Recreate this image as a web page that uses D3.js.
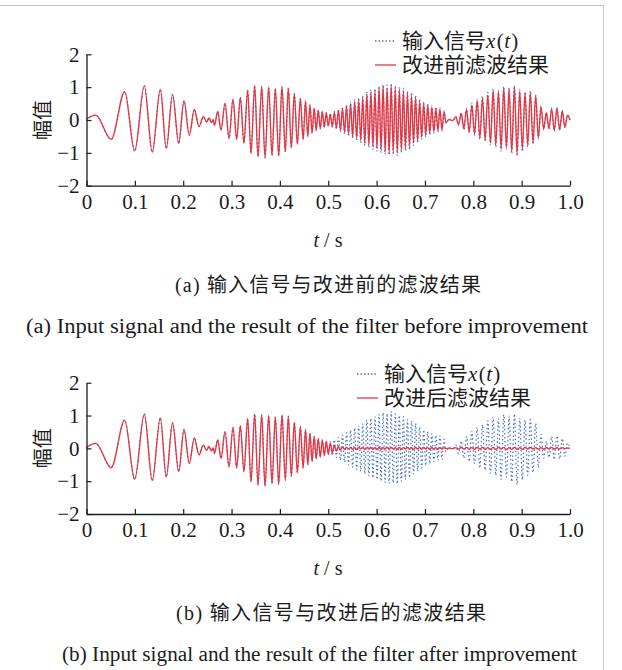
<!DOCTYPE html>
<html>
<head>
<meta charset="utf-8">
<script src="https://cdn.jsdelivr.net/npm/d3@7"></script>
<style>
  body { margin: 0; background: #fff; }
  svg { display: block; }
  text { font-family: "Liberation Serif", "Times New Roman", serif; fill: #1c1c1c; }
  .cjk { font-family: "Noto Sans CJK SC", sans-serif; }
</style>
</head>
<body>
<svg id="chart" width="622" height="670"></svg>
<script>
//peak and trough times (s), first part where all curves coincide
const headTimes = [0, 0.019, 0.051, 0.079, 0.0997, 0.1196, 0.136, 0.1527, 0.165, 0.178,
  0.1907, 0.2017, 0.2126, 0.223, 0.2327, 0.2416, 0.2486, 0.2534, 0.2585, 0.2620, 0.2648,
  0.2713, 0.2782, 0.2865, 0.2947, 0.3030, 0.3106, 0.3182, 0.3257, 0.3333, 0.3402,
  0.3478, 0.3547, 0.3623, 0.3692, 0.3768, 0.3837, 0.3905, 0.3975, 0.4043, 0.4112,
  0.4174, 0.4236, 0.4298, 0.4361, 0.4423, 0.4480, 0.4530, 0.4577, 0.4622, 0.4666,
  0.4709, 0.4751, 0.4793, 0.4835, 0.4877, 0.4918, 0.4959, 0.5000];
//amplitudes at those times (input = both filter outputs here)
const headValues = [0.03, 0.15, -0.59, 0.86, -0.94, 1.04, -0.98, 0.93, -0.87, 0.78,
  -0.71, 0.58, -0.46, 0.32, -0.20, 0.10, -0.06, 0.06, -0.08, 0.02, -0.16,
  0.26, -0.31, 0.51, -0.56, 0.63, -0.59, 0.69, -0.71, 0.91, -1.02,
  1.05, -1.12, 1.02, -1.15, 1.00, -1.08, 0.96, -1.10, 1.02, -0.97,
  0.98, -0.85, 0.80, -0.74, 0.66, -0.60, 0.58, -0.50, 0.46, -0.40,
  0.36, -0.32, 0.30, -0.27, 0.26, -0.22, 0.22, -0.18];

//second part, where the curves split apart
const tailTimes = [0.5042, 0.5084, 0.5126, 0.5168, 0.5210, 0.5252, 0.5294, 0.5336, 0.5378, 0.5420,
  0.5462, 0.5504, 0.5546, 0.5588, 0.5630, 0.5672, 0.5714, 0.5756, 0.5798, 0.5840,
  0.5882, 0.5924, 0.5966, 0.6008, 0.6050, 0.6092, 0.6134, 0.6176, 0.6218, 0.6260,
  0.6302, 0.6344, 0.6386, 0.6428, 0.6470, 0.6512, 0.6554, 0.6596, 0.6638, 0.6680,
  0.6722, 0.6764, 0.6806, 0.6848, 0.6890, 0.6932, 0.6974, 0.7016, 0.7058, 0.7100,
  0.7142, 0.7184, 0.7226, 0.7268, 0.7310, 0.7352, 0.7394, 0.7436,
  0.7500, 0.7570,
  0.7640, 0.7695, 0.7750, 0.7805, 0.7860, 0.7915, 0.7970, 0.8025, 0.8080, 0.8135,
  0.8190, 0.8245, 0.8300, 0.8355, 0.8410, 0.8465, 0.8520, 0.8575, 0.8630, 0.8685,
  0.8740, 0.8795, 0.8850, 0.8905, 0.8960, 0.9015, 0.9070, 0.9125, 0.9180, 0.9235,
  0.9290, 0.9345, 0.9400, 0.9455, 0.9510, 0.9565, 0.9620, 0.9675, 0.9730, 0.9785,
  0.9840, 0.9895, 0.9950, 1.0000];

//input signal x(t), blue dotted
const inputTail = [0.20, -0.22, 0.26, -0.28, 0.33, -0.36, 0.40, -0.42, 0.47, -0.50,
  0.55, -0.57, 0.62, -0.64, 0.68, -0.70, 0.75, -0.78, 0.86, -0.84,
  0.92, -0.90, 0.96, -0.95, 1.04, -1.00, 1.08, -1.04, 1.06, -1.07,
  1.12, -1.05, 1.05, -1.08, 1.00, -1.00, 0.97, -0.95, 0.88, -0.90,
  0.84, -0.78, 0.76, -0.70, 0.64, -0.60, 0.56, -0.52, 0.50, -0.46,
  0.44, -0.40, 0.40, -0.36, 0.38, -0.34, 0.28, -0.10,
  0.03, -0.03,
  0.10, -0.16, 0.22, -0.30, 0.36, -0.40, 0.52, -0.46, 0.64, -0.60,
  0.72, -0.66, 0.84, -0.76, 0.95, -0.82, 0.90, -0.95, 1.02, -0.88,
  0.98, -1.02, 1.05, -1.10, 0.92, -0.96, 0.86, -0.82, 0.88, -0.74,
  0.76, -0.58, 0.42, -0.30, 0.22, -0.28, 0.36, -0.34, 0.38, -0.32,
  0.30, -0.24, 0.16, 0.00];

//filter result before improvement, red in panel (a)
const beforeTail = [0.18, -0.20, 0.24, -0.25, 0.30, -0.32, 0.35, -0.38, 0.42, -0.44,
  0.48, -0.50, 0.55, -0.56, 0.60, -0.62, 0.66, -0.70, 0.78, -0.74,
  0.84, -0.80, 0.88, -0.86, 0.98, -0.90, 1.02, -0.96, 0.98, -1.02,
  1.04, -0.95, 0.96, -1.00, 0.92, -0.90, 0.88, -0.84, 0.80, -0.80,
  0.74, -0.70, 0.68, -0.62, 0.56, -0.52, 0.50, -0.46, 0.44, -0.40,
  0.38, -0.36, 0.35, -0.32, 0.33, -0.30, 0.25, -0.08,
  0.02, -0.02,
  0.09, -0.14, 0.20, -0.26, 0.32, -0.36, 0.46, -0.42, 0.58, -0.54,
  0.66, -0.60, 0.76, -0.70, 0.90, -0.76, 0.86, -0.88, 0.98, -0.84,
  0.94, -0.96, 1.00, -1.02, 0.88, -0.90, 0.82, -0.76, 0.84, -0.70,
  0.74, -0.54, 0.40, -0.28, 0.22, -0.26, 0.34, -0.32, 0.36, -0.30,
  0.28, -0.22, 0.15, 0.00];

//filter result after improvement, red in panel (b): dies out after 0.5 s
const afterTail = [0.16, -0.13, 0.10, -0.08, 0.06, -0.05, 0.04, -0.03, 0.03, -0.02,
  0.03, -0.03, 0.02, -0.03, 0.03, -0.02, 0.03, -0.03, 0.02, -0.02,
  0.03, -0.03, 0.02, -0.03, 0.03, -0.03, 0.02, -0.02, 0.03, -0.03,
  0.03, -0.02, 0.02, -0.03, 0.03, -0.03, 0.02, -0.02, 0.03, -0.03,
  0.02, -0.03, 0.03, -0.02, 0.02, -0.03, 0.03, -0.02, 0.02, -0.03,
  0.03, -0.02, 0.02, -0.03, 0.02, -0.02, 0.02, -0.01,
  0.01, -0.01,
  0.02, -0.02, 0.03, -0.02, 0.03, -0.03, 0.02, -0.03, 0.03, -0.02,
  0.03, -0.03, 0.02, -0.03, 0.03, -0.03, 0.03, -0.02, 0.03, -0.03,
  0.02, -0.03, 0.03, -0.03, 0.02, -0.03, 0.03, -0.02, 0.03, -0.02,
  0.02, -0.03, 0.02, -0.02, 0.02, -0.02, 0.03, -0.02, 0.02, -0.02,
  0.02, -0.01, 0.01, 0.00];

const xTicks = [0, 0.1, 0.2, 0.3, 0.4, 0.5, 0.6, 0.7, 0.8, 0.9, 1.0];
const yTicks = [-2, -1, 0, 1, 2];

//quick sanity check that the arrays line up
console.log(headTimes.length, headValues.length, tailTimes.length,
  inputTail.length, beforeTail.length, afterTail.length);

const blue = "#4a72c4";
const red = "#e8343e";

const svg = d3.select("#chart");

//faint scan border on top and right
svg.append("line").attr("x1", 0).attr("x2", 603).attr("y1", 5.5).attr("y2", 5.5)
  .attr("stroke", "#c8c8c8").attr("stroke-width", 1);
svg.append("line").attr("x1", 603.5).attr("x2", 603.5).attr("y1", 5).attr("y2", 670)
  .attr("stroke", "#c8c8c8").attr("stroke-width", 1);

//build point lists
const times = headTimes.concat(tailTimes);
const inputPts = times.map((t, i) => ({ t: t, v: headValues.concat(inputTail)[i] }));
const beforePts = times.map((t, i) => ({ t: t, v: headValues.concat(beforeTail)[i] }));
const afterPts = times.map((t, i) => ({ t: t, v: headValues.concat(afterTail)[i] }));

function drawPanel(p) {
  const x = d3.scaleLinear().domain([0, 1]).range([86.5, 570]);
  const y = d3.scaleLinear().domain([-2, 2]).range([p.bottom, p.top]);

  const line = d3.line()
    .x(d => x(d.t))
    .y(d => y(d.v))
    .curve(d3.curveMonotoneX);

  //input first so the red sits on top
  svg.append("path")
    .datum(inputPts)
    .attr("d", line)
    .attr("fill", "none")
    .attr("stroke", blue)
    .attr("stroke-width", 1.2)
    .attr("stroke-dasharray", "1.5,2.5");

  svg.append("path")
    .datum(p.result)
    .attr("d", line)
    .attr("fill", "none")
    .attr("stroke", red)
    .attr("stroke-width", 1.35);

  //axes with inward ticks
  const yAxis = svg.append("g")
    .attr("transform", "translate(86.5,0)")
    .call(d3.axisLeft(y).tickValues(yTicks).tickSizeInner(-5).tickSizeOuter(0)
      .tickPadding(7).tickFormat(d3.format("d")));
  const xAxis = svg.append("g")
    .attr("transform", `translate(0,${p.bottom})`)
    .call(d3.axisBottom(x).tickValues(xTicks).tickSizeInner(-5).tickSizeOuter(0)
      .tickPadding(8).tickFormat(d => d === 0 ? "0" : d3.format(".1f")(d)));
  [yAxis, xAxis].forEach(g => {
    g.select(".domain").attr("stroke", "#1c1c1c").attr("stroke-width", 1.3);
    g.selectAll(".tick line").attr("stroke", "#1c1c1c").attr("stroke-width", 1.2);
    g.selectAll(".tick text").attr("font-size", 21)
      .attr("font-family", "'Liberation Serif', serif").attr("fill", "#1c1c1c");
  });

  //y label
  svg.append("text")
    .attr("class", "cjk")
    .attr("transform", `translate(41,${y(0)}) rotate(-90)`)
    .attr("text-anchor", "middle")
    .attr("dominant-baseline", "central")
    .attr("font-size", 20)
    .text("幅值");

  //x label t / s
  const xl = svg.append("text")
    .attr("x", 328).attr("y", p.bottom + 61)
    .attr("text-anchor", "middle")
    .attr("font-size", 20);
  xl.append("tspan").attr("font-style", "italic").text("t");
  xl.append("tspan").text(" / s");

  //legend
  svg.append("line")
    .attr("x1", p.legX).attr("x2", p.legX + 21)
    .attr("y1", p.legY).attr("y2", p.legY)
    .attr("stroke", blue).attr("stroke-width", 1.3).attr("stroke-dasharray", "1.5,2");
  const l1 = svg.append("text")
    .attr("x", p.legX + 27).attr("y", p.legY + 7)
    .attr("font-size", 21);
  l1.append("tspan").attr("class", "cjk").text("输入信号");
  l1.append("tspan").attr("font-style", "italic").text("x");
  l1.append("tspan").attr("dx", 1.5).text("(");
  l1.append("tspan").attr("dx", 0.5).attr("font-style", "italic").text("t");
  l1.append("tspan").attr("dx", 1).text(")");

  svg.append("line")
    .attr("x1", p.legX).attr("x2", p.legX + 21)
    .attr("y1", p.legY + 24).attr("y2", p.legY + 24)
    .attr("stroke", red).attr("stroke-width", 1.3);
  svg.append("text")
    .attr("class", "cjk")
    .attr("x", p.legX + 27).attr("y", p.legY + 31)
    .attr("font-size", 21)
    .text(p.legText);

  //captions
  const c1 = svg.append("text")
    .attr("x", p.capX).attr("y", p.bottom + 106)
    .attr("font-size", 20)
    .attr("textLength", p.capW).attr("lengthAdjust", "spacing");
  c1.append("tspan").text(p.tag + "  ");
  c1.append("tspan").attr("class", "cjk").text(p.capCn);

  svg.append("text")
    .attr("x", p.enX).attr("y", p.bottom + 147)
    .attr("font-size", 20)
    .attr("textLength", p.enW).attr("lengthAdjust", "spacingAndGlyphs")
    .text(p.tag + "  " + p.capEn);
}

drawPanel({
  top: 54.3, bottom: 185.7, result: beforePts,
  legX: 375, legY: 41, legText: "改进前滤波结果",
  tag: "(a)", capCn: "输入信号与改进前的滤波结果", capX: 175, capW: 306,
  capEn: "Input signal and the result of the filter before improvement", enX: 26, enW: 562
});

drawPanel({
  top: 382.7, bottom: 514, result: afterPts,
  legX: 357, legY: 374, legText: "改进后滤波结果",
  tag: "(b)", capCn: "输入信号与改进后的滤波结果", capX: 176, capW: 310,
  capEn: "Input signal and the result of the filter after improvement", enX: 62, enW: 515
});
</script>
</body>
</html>
